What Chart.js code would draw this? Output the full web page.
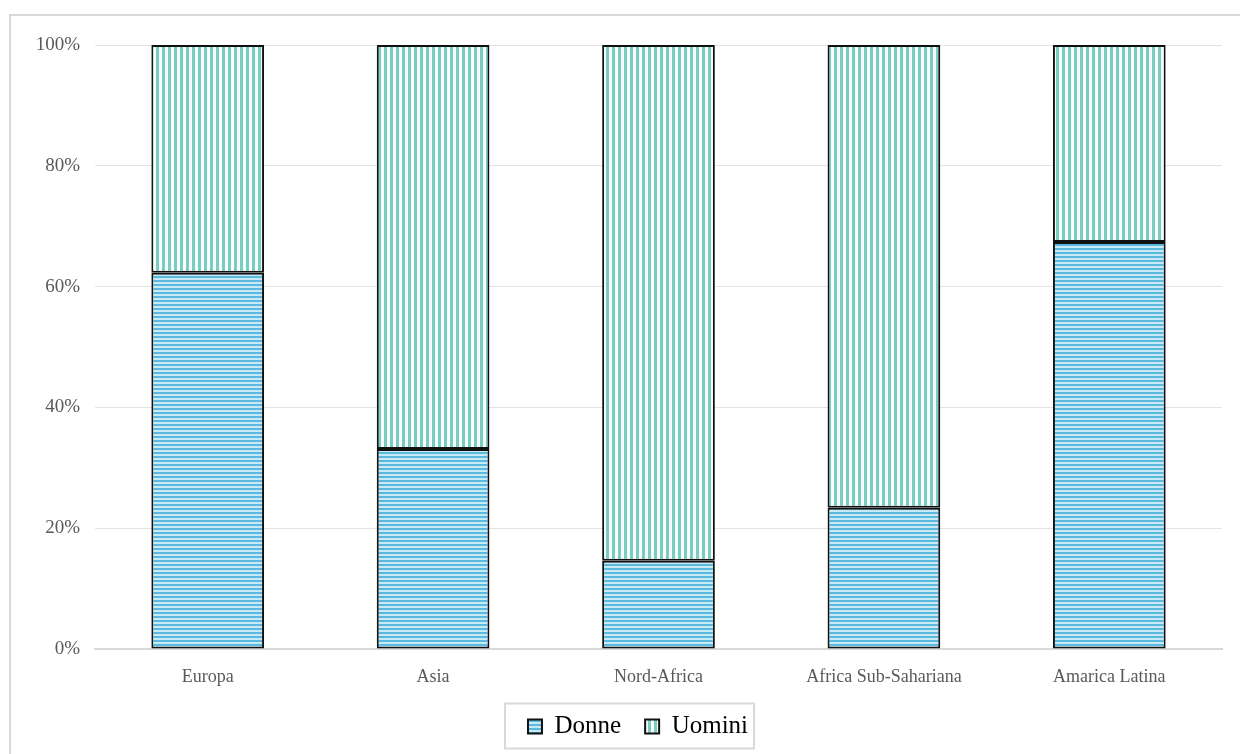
<!DOCTYPE html>
<html>
<head>
<meta charset="utf-8">
<script src="https://cdn.jsdelivr.net/npm/chart.js@4"></script>
<style>
  html, body { margin: 0; padding: 0; background: #fff; }
  #frame { position: absolute; left: 9px; top: 14px; width: 1240px; height: 760px; border-left: 2px solid #d9d9d9; border-top: 2px solid #d9d9d9; }
  #wrap { position: absolute; left: 0; top: 0; width: 1240px; height: 754px; }
</style>
</head>
<body>
<div id="frame"></div>
<div id="wrap"><canvas id="myChart"></canvas></div>
<script>
const categories = ['Europa', 'Asia', 'Nord-Africa', 'Africa Sub-Sahariana', 'Amarica Latina'];
const donne = [62.3, 33.1, 14.6, 23.4, 67.4];
const uomini = [37.7, 66.9, 85.4, 76.6, 32.6];
const yTicks = [0, 20, 40, 60, 80, 100];

function stripes(horizontal, bg, fg, period, line) {
    const c = document.createElement('canvas');
    c.width = period; c.height = period;
    const g = c.getContext('2d');
    g.fillStyle = bg;
    g.fillRect(0, 0, period, period);
    g.fillStyle = fg;
    if (horizontal) g.fillRect(0, 0, period, line);
    else g.fillRect(0, 0, line, period);
    return g.createPattern(c, 'repeat');
}

const ctx = document.getElementById('myChart');
const pDonne = stripes(true, '#c8eaf6', '#5ab9dc', 4, 2);
const pUomini = stripes(false, '#f8fdfc', '#78ccc1', 6, 3);

// legend sits a bit right of the middle, with a grey frame round it
const legendFrame = {
    id: 'legendFrame',
    afterLayout(chart) {
        chart.legend.left += 54;
    },
    afterDraw(chart) {
        const hb = chart.legend.legendHitBoxes;
        if (!hb || !hb.length) return;
        const last = hb[hb.length - 1];
        const c = chart.ctx;
        c.save();
        c.strokeStyle = '#d9d9d9';
        c.lineWidth = 2;
        const x0 = hb[0].left - 23, x1 = last.left + last.width + 6;
        const yc = hb[0].top + hb[0].height / 2;
        c.strokeRect(x0, yc - 23, x1 - x0, 45);
        c.restore();
    }
};

const chart = new Chart(ctx, {
    type: 'bar',
    data: {
        labels: categories,
        datasets: [{
            label: 'Donne',
            data: donne,
            backgroundColor: pDonne,
            borderColor: '#111',
            borderWidth: 2,
            borderSkipped: false
        }, {
            label: 'Uomini',
            data: uomini,
            backgroundColor: pUomini,
            borderColor: '#111',
            borderWidth: 2,
            borderSkipped: false
        }]
    },
    options: {
        responsive: true,
        maintainAspectRatio: false,
        animation: false,
        layout: { padding: { left: 0, right: 18, top: 45, bottom: 5 } },
        datasets: { bar: { categoryPercentage: 1, barPercentage: 0.5 } },
        scales: {
            x: {
                stacked: true,
                grid: { display: false },
                border: { color: '#d9d9d9', width: 2 },
                afterFit(axis) { axis.height = 41; },
                ticks: { color: '#595959', font: { family: 'Liberation Serif', size: 18 }, padding: 9 }
            },
            y: {
                stacked: true,
                min: 0,
                max: 100,
                afterBuildTicks(axis) { axis.ticks = yTicks.map(v => ({ value: v })); },
                afterFit(axis) { axis.width = 95; },
                grid: { color: '#e3e3e3', lineWidth: 1, drawTicks: false },
                border: { display: false },
                ticks: {
                    color: '#595959',
                    font: { family: 'Liberation Serif', size: 19 },
                    padding: 15,
                    callback: v => v + '%'
                }
            }
        },
        plugins: {
            legend: {
                position: 'bottom',
                labels: {
                    color: '#404040',
                    font: { family: 'Liberation Serif', size: 25 },
                    boxWidth: 14,
                    boxHeight: 14,
                    padding: 24,
                    generateLabels(chart) {
                        return chart.data.datasets.map((ds, i) => ({
                            text: ds.label,
                            fillStyle: ds.backgroundColor,
                            strokeStyle: '#111',
                            lineWidth: 2,
                            datasetIndex: i
                        }));
                    }
                }
            },
            tooltip: { enabled: false }
        }
    },
    plugins: [legendFrame]
});
</script>
</body>
</html>
